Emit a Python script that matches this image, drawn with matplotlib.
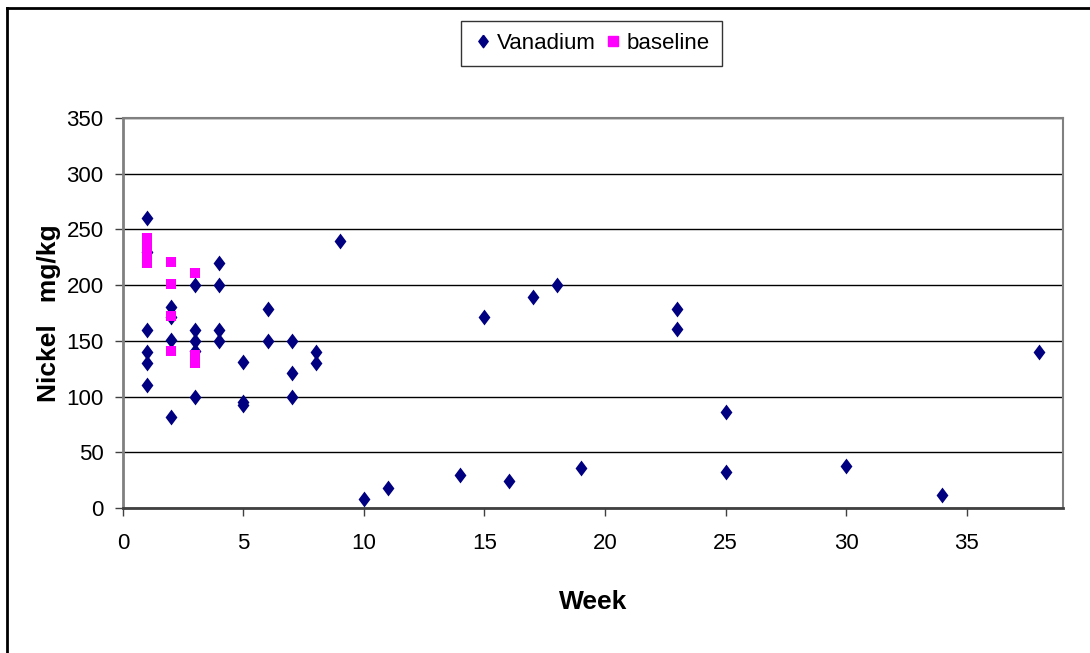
import matplotlib.pyplot as plt
from matplotlib.lines import Line2D

plt.rcParams['font.family'] = ['Liberation Sans', 'DejaVu Sans']

# Vanadium series (week, nickel mg/kg)
van_week = [1, 1, 1, 1, 1, 1,
            2, 2, 2, 2,
            3, 3, 3, 3, 3,
            4, 4, 4, 4,
            5, 5, 5,
            6, 6,
            7, 7, 7,
            8, 8,
            9, 10, 11, 14, 15, 16, 17, 18, 19,
            23, 23, 25, 25, 30, 34, 38]
van_ni = [260, 230, 160, 140, 130, 110,
          180, 171, 151, 82,
          200, 160, 150, 141, 100,
          220, 200, 160, 150,
          131, 95, 92,
          179, 150,
          150, 121, 100,
          140, 130,
          240, 8, 18, 30, 171, 24, 189, 200, 36,
          179, 161, 86, 32, 38, 12, 140]

# baseline series
base_week = [1, 1, 1, 1, 2, 2, 2, 2, 3, 3, 3]
base_ni = [242, 235, 228, 220, 221, 201, 172, 141, 211, 137, 130]

diamond = [(0, 1), (0.75, 0), (0, -1), (-0.75, 0), (0, 1)]

fig = plt.figure(figsize=(10.9, 6.53), dpi=100)
ax = fig.add_axes([0.1128, 0.2221, 0.8624, 0.5972])

ax.scatter(van_week, van_ni, marker=diamond, s=130, color='#000080',
           linewidths=0, zorder=3, label='Vanadium')
ax.scatter(base_week, base_ni, marker='s', s=55, color='#FF00FF',
           linewidths=0, zorder=4, label='baseline')

ax.set_xlim(0, 39)
ax.set_ylim(0, 350)
ax.set_xticks(range(0, 36, 5))
ax.set_yticks(range(0, 351, 50))
ax.yaxis.grid(True, color='black', linewidth=1.0)
ax.set_axisbelow(True)

for s in ax.spines.values():
    s.set_color('#808080')
    s.set_linewidth(1.5)
ax.spines['left'].set_linewidth(2)
ax.spines['bottom'].set_color('#404040')
ax.spines['bottom'].set_linewidth(2)

ax.tick_params(axis='both', direction='out', length=6, width=1,
               color='#404040', labelsize=16)
ax.tick_params(axis='x', pad=12)
ax.tick_params(axis='y', pad=8)

ax.set_xlabel('Week', fontsize=19, fontweight='bold', labelpad=26)
ax.set_ylabel('Nickel   mg/kg', fontsize=19, fontweight='bold', labelpad=4)

handles = [Line2D([], [], marker=diamond, color='#000080', linestyle='none', markersize=9),
           Line2D([], [], marker='s', color='#FF00FF', linestyle='none', markersize=7)]
leg = fig.legend(handles, ['Vanadium', 'baseline'], loc='center',
                 bbox_to_anchor=(0.5425, 0.933), ncol=2, fontsize=16,
                 frameon=True, fancybox=False, edgecolor='black',
                 handletextpad=0.15, columnspacing=0.35, handlelength=0.9,
                 borderpad=0.55, borderaxespad=0)
leg.get_frame().set_linewidth(1.0)

# outer chart border (top and left visible)
fig.add_artist(Line2D([7 / 1090, 7 / 1090], [0, 1 - 8 / 653], color='black', linewidth=2,
                      transform=fig.transFigure))
fig.add_artist(Line2D([7 / 1090, 1], [1 - 8 / 653, 1 - 8 / 653], color='black', linewidth=2,
                      transform=fig.transFigure))

fig.savefig('out.png', dpi=100)
